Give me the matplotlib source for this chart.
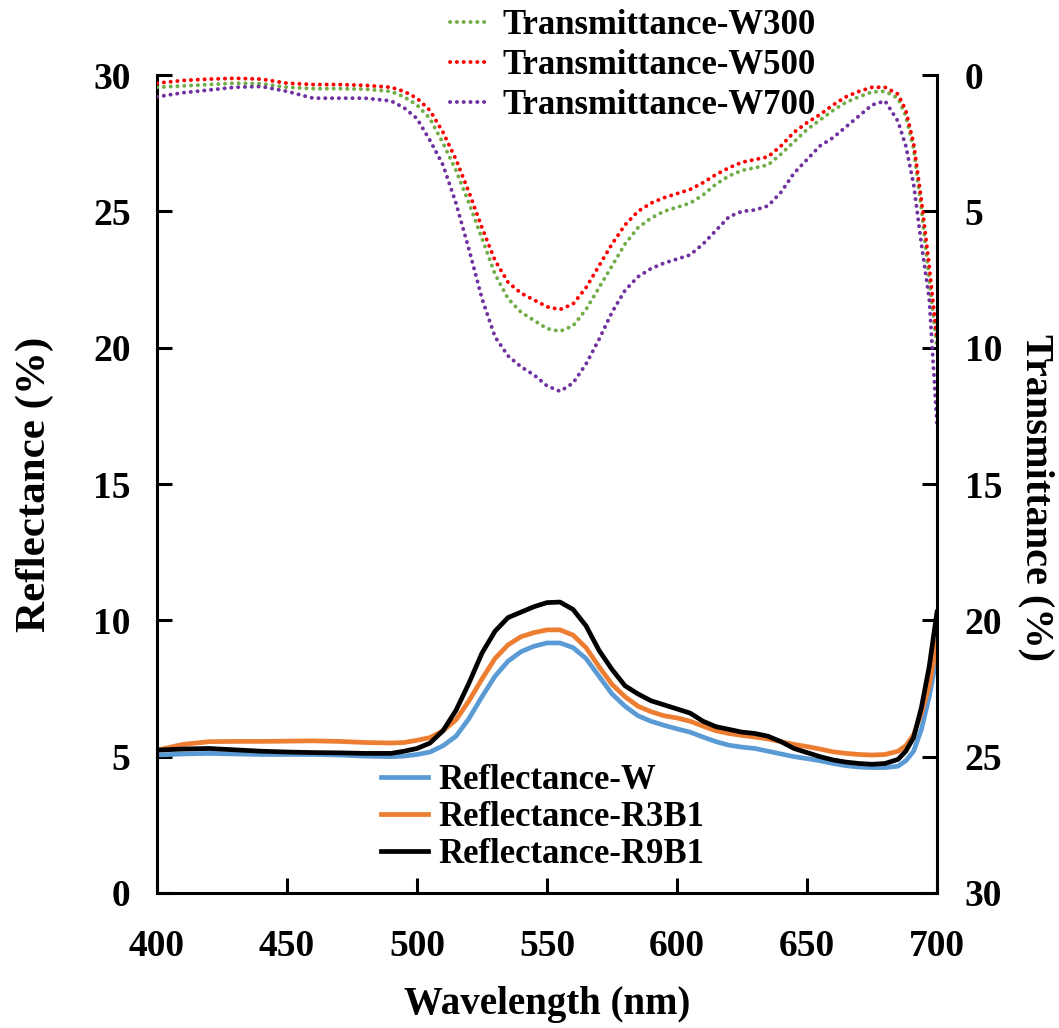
import numpy as np
import matplotlib
matplotlib.use("Agg")
import matplotlib.pyplot as plt

plt.rcParams['font.family'] = ['Liberation Serif', 'DejaVu Serif']
plt.rcParams['font.weight'] = 'bold'

wavelength = [400, 410, 420, 430, 440, 450, 460, 470, 480, 490, 495, 500, 505, 510, 515,
              520, 525, 530, 535, 540, 545, 550, 555, 560, 565, 570, 575, 580, 585, 590,
              595, 600, 605, 610, 615, 620, 625, 630, 635, 640, 645, 650, 655, 660, 665,
              670, 675, 680, 685, 688, 691, 694, 697, 700]

# transmittance (right axis, inverted)
t_w300 = [0.45, 0.4, 0.35, 0.3, 0.32, 0.45, 0.5, 0.5, 0.52, 0.6, 0.8, 1.1, 1.6, 2.5, 3.5,
          4.7, 6.0, 7.3, 8.2, 8.7, 9.0, 9.3, 9.4, 9.2, 8.6, 7.8, 7.0, 6.2, 5.6, 5.25,
          5.0, 4.85, 4.7, 4.4, 4.0, 3.7, 3.5, 3.4, 3.3, 2.9, 2.45, 2.0, 1.65, 1.3, 1.0,
          0.8, 0.62, 0.6, 0.85, 1.5, 2.7, 4.9, 7.5, 10.0]
t_w500 = [0.3, 0.2, 0.15, 0.12, 0.15, 0.3, 0.35, 0.35, 0.38, 0.45, 0.6, 0.85, 1.3, 2.1, 3.1,
          4.3, 5.6, 6.8, 7.6, 8.0, 8.25, 8.5, 8.6, 8.4, 7.8, 7.0, 6.2, 5.5, 5.0, 4.7,
          4.5, 4.35, 4.2, 3.95, 3.65, 3.4, 3.2, 3.1, 3.0, 2.6, 2.1, 1.75, 1.45, 1.1, 0.8,
          0.6, 0.45, 0.45, 0.7, 1.3, 2.5, 4.6, 7.0, 9.7]
t_w700 = [0.8, 0.65, 0.55, 0.45, 0.42, 0.6, 0.85, 0.85, 0.85, 0.95, 1.2, 1.6, 2.4, 3.3, 4.7,
          6.4, 8.2, 9.6, 10.3, 10.7, 11.0, 11.4, 11.6, 11.3, 10.6, 9.7, 8.7, 7.9, 7.4, 7.1,
          6.9, 6.75, 6.6, 6.2, 5.7, 5.2, 5.0, 4.95, 4.8, 4.3, 3.6, 3.1, 2.6, 2.3, 1.9,
          1.5, 1.1, 0.95, 1.7, 2.6, 4.0, 6.2, 8.2, 12.8]

# reflectance (left axis)
r_w = [5.06, 5.1, 5.12, 5.1, 5.08, 5.08, 5.08, 5.06, 5.02, 5.0, 5.02, 5.08, 5.17, 5.4, 5.75,
       6.4, 7.2, 7.95, 8.5, 8.85, 9.05, 9.17, 9.17, 9.0, 8.6, 7.95, 7.3, 6.85, 6.5, 6.3,
       6.15, 6.02, 5.9, 5.72, 5.55, 5.42, 5.35, 5.3, 5.2, 5.1, 5.0, 4.93, 4.85, 4.75, 4.67,
       4.62, 4.6, 4.6, 4.65, 4.85, 5.2, 6.0, 7.2, 8.7]
r_r3b1 = [5.24, 5.45, 5.55, 5.56, 5.56, 5.57, 5.58, 5.56, 5.52, 5.5, 5.52, 5.6, 5.7, 5.95, 6.35,
          7.05, 7.85, 8.6, 9.1, 9.4, 9.55, 9.65, 9.65, 9.46, 9.0, 8.3, 7.65, 7.2, 6.85, 6.65,
          6.5, 6.42, 6.3, 6.12, 5.95, 5.85, 5.78, 5.72, 5.65, 5.55, 5.45, 5.37, 5.28, 5.18, 5.12,
          5.08, 5.06, 5.08, 5.2, 5.4, 5.8, 6.6, 7.6, 9.2]
r_r9b1 = [5.24, 5.28, 5.3, 5.25, 5.2, 5.17, 5.15, 5.14, 5.12, 5.12, 5.2, 5.3, 5.5, 5.95, 6.7,
          7.7, 8.8, 9.6, 10.1, 10.3, 10.5, 10.65, 10.67, 10.4, 9.8, 8.9, 8.2, 7.6, 7.3, 7.05,
          6.9, 6.75, 6.6, 6.3, 6.1, 6.0, 5.9, 5.85, 5.75, 5.55, 5.3, 5.15, 5.0, 4.88, 4.8,
          4.75, 4.72, 4.75, 4.9, 5.2, 5.7, 6.8, 8.3, 10.3]

fig = plt.figure(figsize=(10.59, 10.28), dpi=100)
ax = fig.add_axes([157 / 1059, 135 / 1028, 780 / 1059, 818 / 1028])
ax2 = ax.twinx()

dot = (0, (0.05, 1.7))
lt1, = ax2.plot(wavelength, t_w300, color='#70AD47', lw=2.8, ls=dot, dash_capstyle='round',
                label='Transmittance-W300')
lt2, = ax2.plot(wavelength, t_w500, color='#FF0000', lw=2.8, ls=dot, dash_capstyle='round',
                label='Transmittance-W500')
lt3, = ax2.plot(wavelength, t_w700, color='#7030A0', lw=2.8, ls=dot, dash_capstyle='round',
                label='Transmittance-W700')

lr1, = ax.plot(wavelength, r_w, color='#5B9BD5', lw=3.4, label='Reflectance-W')
lr2, = ax.plot(wavelength, r_r3b1, color='#ED7D31', lw=3.4, label='Reflectance-R3B1')
lr3, = ax.plot(wavelength, r_r9b1, color='black', lw=3.4, label='Reflectance-R9B1')

ax.set_xlim(400, 700)
ax.set_ylim(0, 30)
ax2.set_ylim(30, 0)
ax.set_xticks([400, 450, 500, 550, 600, 650, 700])
ax.set_yticks([0, 5, 10, 15, 20, 25, 30])
ax2.set_yticks([0, 5, 10, 15, 20, 25, 30])

for a in (ax, ax2):
    a.spines['top'].set_visible(False)
    for s in ('left', 'right', 'bottom'):
        a.spines[s].set_linewidth(2.2)
ax.spines['right'].set_visible(False)
ax2.spines['left'].set_visible(False)
ax2.spines['bottom'].set_visible(False)

ax.tick_params(axis='x', direction='in', length=11, width=2.2, pad=26, labelsize=27)
ax.tick_params(axis='y', direction='in', length=11, width=2.2, pad=19, labelsize=27)
ax2.tick_params(axis='y', direction='in', length=11, width=2.2, pad=20, labelsize=27)

ax.set_xlabel('Wavelength (nm)', fontsize=28, fontweight='bold', labelpad=16)
ax.set_ylabel('Reflectance (%)', fontsize=31, fontweight='bold', labelpad=28)
fig.text(1036 / 1059, 1 - 497 / 1028, 'Transmittance (%)', fontsize=29, fontweight='bold',
         rotation=-90, ha='center', va='center')

leg1 = ax2.legend(handles=[lt1, lt2, lt3], loc='upper left', frameon=False,
                  bbox_to_anchor=(450 / 1059, 1 - 9 / 1028), bbox_transform=fig.transFigure,
                  handlelength=1.1, handletextpad=0.4, labelspacing=0.2,
                  borderpad=0, borderaxespad=0, prop={'weight': 'bold', 'size': 25})
leg2 = ax2.legend(handles=[lr1, lr2, lr3], loc='upper left', frameon=False,
                  bbox_to_anchor=(381 / 1059, 1 - 764 / 1028), bbox_transform=fig.transFigure,
                  handlelength=1.35, handletextpad=0.3, labelspacing=0.12,
                  borderpad=0, borderaxespad=0, prop={'weight': 'bold', 'size': 25})
ax2.add_artist(leg1)

fig.savefig('out.png', dpi=100)
